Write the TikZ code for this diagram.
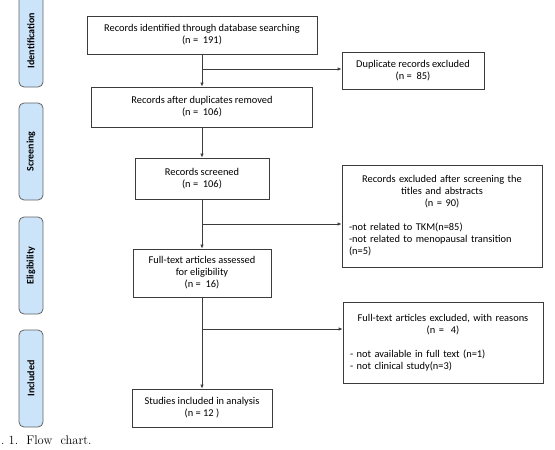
\documentclass[tikz,border=0pt]{standalone}
\usepackage{fontspec}
\newfontfamily\boxfont{Carlito}
\usetikzlibrary{arrows.meta, positioning}
\definecolor{stageblue}{RGB}{204,228,249}
\definecolor{boxline}{RGB}{60,60,60}

\begin{document}
\begin{tikzpicture}[
    x=1pt, y=-1pt,
    box/.style={draw=boxline, line width=0.8pt, rectangle, align=center, fill=white, font=\boxfont\fontsize{10.4}{12}\selectfont, inner sep=3pt},
    stage/.style={draw=boxline!80, line width=0.8pt, fill=stageblue, rounded corners=5pt, rotate=90, minimum height=24pt, font=\boxfont\fontsize{10}{11}\selectfont\bfseries},
    arr/.style={draw=boxline, line width=0.8pt, -{Latex[length=4pt,width=3.5pt]}}
]
    \useasboundingbox (0,0) rectangle (555,450);
    \clip (0,0) rectangle (555,450);

    % Stages
    \node[stage, minimum width=93pt] (sid) at (31,40.5) {Identification};
    \node[stage, minimum width=97pt] (sscr) at (31,151.5) {Screening};
    \node[stage, minimum width=97pt] (selg) at (31,265.5) {Eligibility};
    \node[stage, minimum width=97pt] (sinc) at (31,378.5) {Included};

    % Main flow
    \node[box, minimum width=230pt, minimum height=38pt] (ident) at (202,35) {Records identified through database searching\\(n =\ \ 191)};
    \node[box, minimum width=221pt, minimum height=40pt] (dedup) at (202,107) {Records after duplicates removed\\(n =\ \ 106)};
    \node[box, minimum width=134pt, minimum height=41pt] (screen) at (202,178.5) {Records screened\\(n =\ \ 106)};
    \node[box, minimum width=138pt, minimum height=48pt] (full) at (202,273) {Full-text articles assessed\\for eligibility\\(n =\ \ 16)};
    \node[box, minimum width=140pt, minimum height=38pt] (incl) at (202,408) {Studies included in analysis\\(n = 12 )};

    % Exclusions
    \node[box, align=left, text width=186pt, inner sep=7pt, minimum height=102pt] (exscr) at (442,216) {%
        \centering Records excluded after screening the\\titles and abstracts\\(n = 90)\par
        \vspace{12pt}\raggedright
        -not related to TKM(n=85)\\-not related to menopausal transition\\(n=5)};
    \node[box, minimum width=142pt, minimum height=37pt] (dup) at (413,70.5) {Duplicate records excluded\\(n =\ \ 85)};
    \node[box, align=left, text width=186pt, inner sep=7pt, minimum height=81pt] (exfull) at (443,342.5) {%
        \centering Full-text articles excluded, with reasons\\(n =\ \ 4)\par
        \vspace{12pt}\raggedright
        - not available in full text (n=1)\\- not clinical study(n=3)\par\vspace{4pt}};

    % Connectors
    \coordinate (br1) at (202,69);
    \coordinate (br2) at (202,224);
    \coordinate (br3) at (202,329);
    \draw[arr] (ident) -- (dedup);
    \draw[arr] (dedup) -- (screen);
    \draw[arr] (screen) -- (full);
    \draw[arr] (full) -- (incl);
    \draw[arr] (br1) -- (br1 -| dup.west);
    \draw[arr] (br2) -- (br2 -| exscr.west);
    \draw[arr] (br3) -- (br3 -| exfull.west);

    % Caption
    \node[anchor=west, inner sep=0pt, font=\fontsize{12.5}{14}\selectfont] (cap) at (1,440) {.\ 1.\ \ Flow\ \ chart.};
\end{tikzpicture}
\end{document}
